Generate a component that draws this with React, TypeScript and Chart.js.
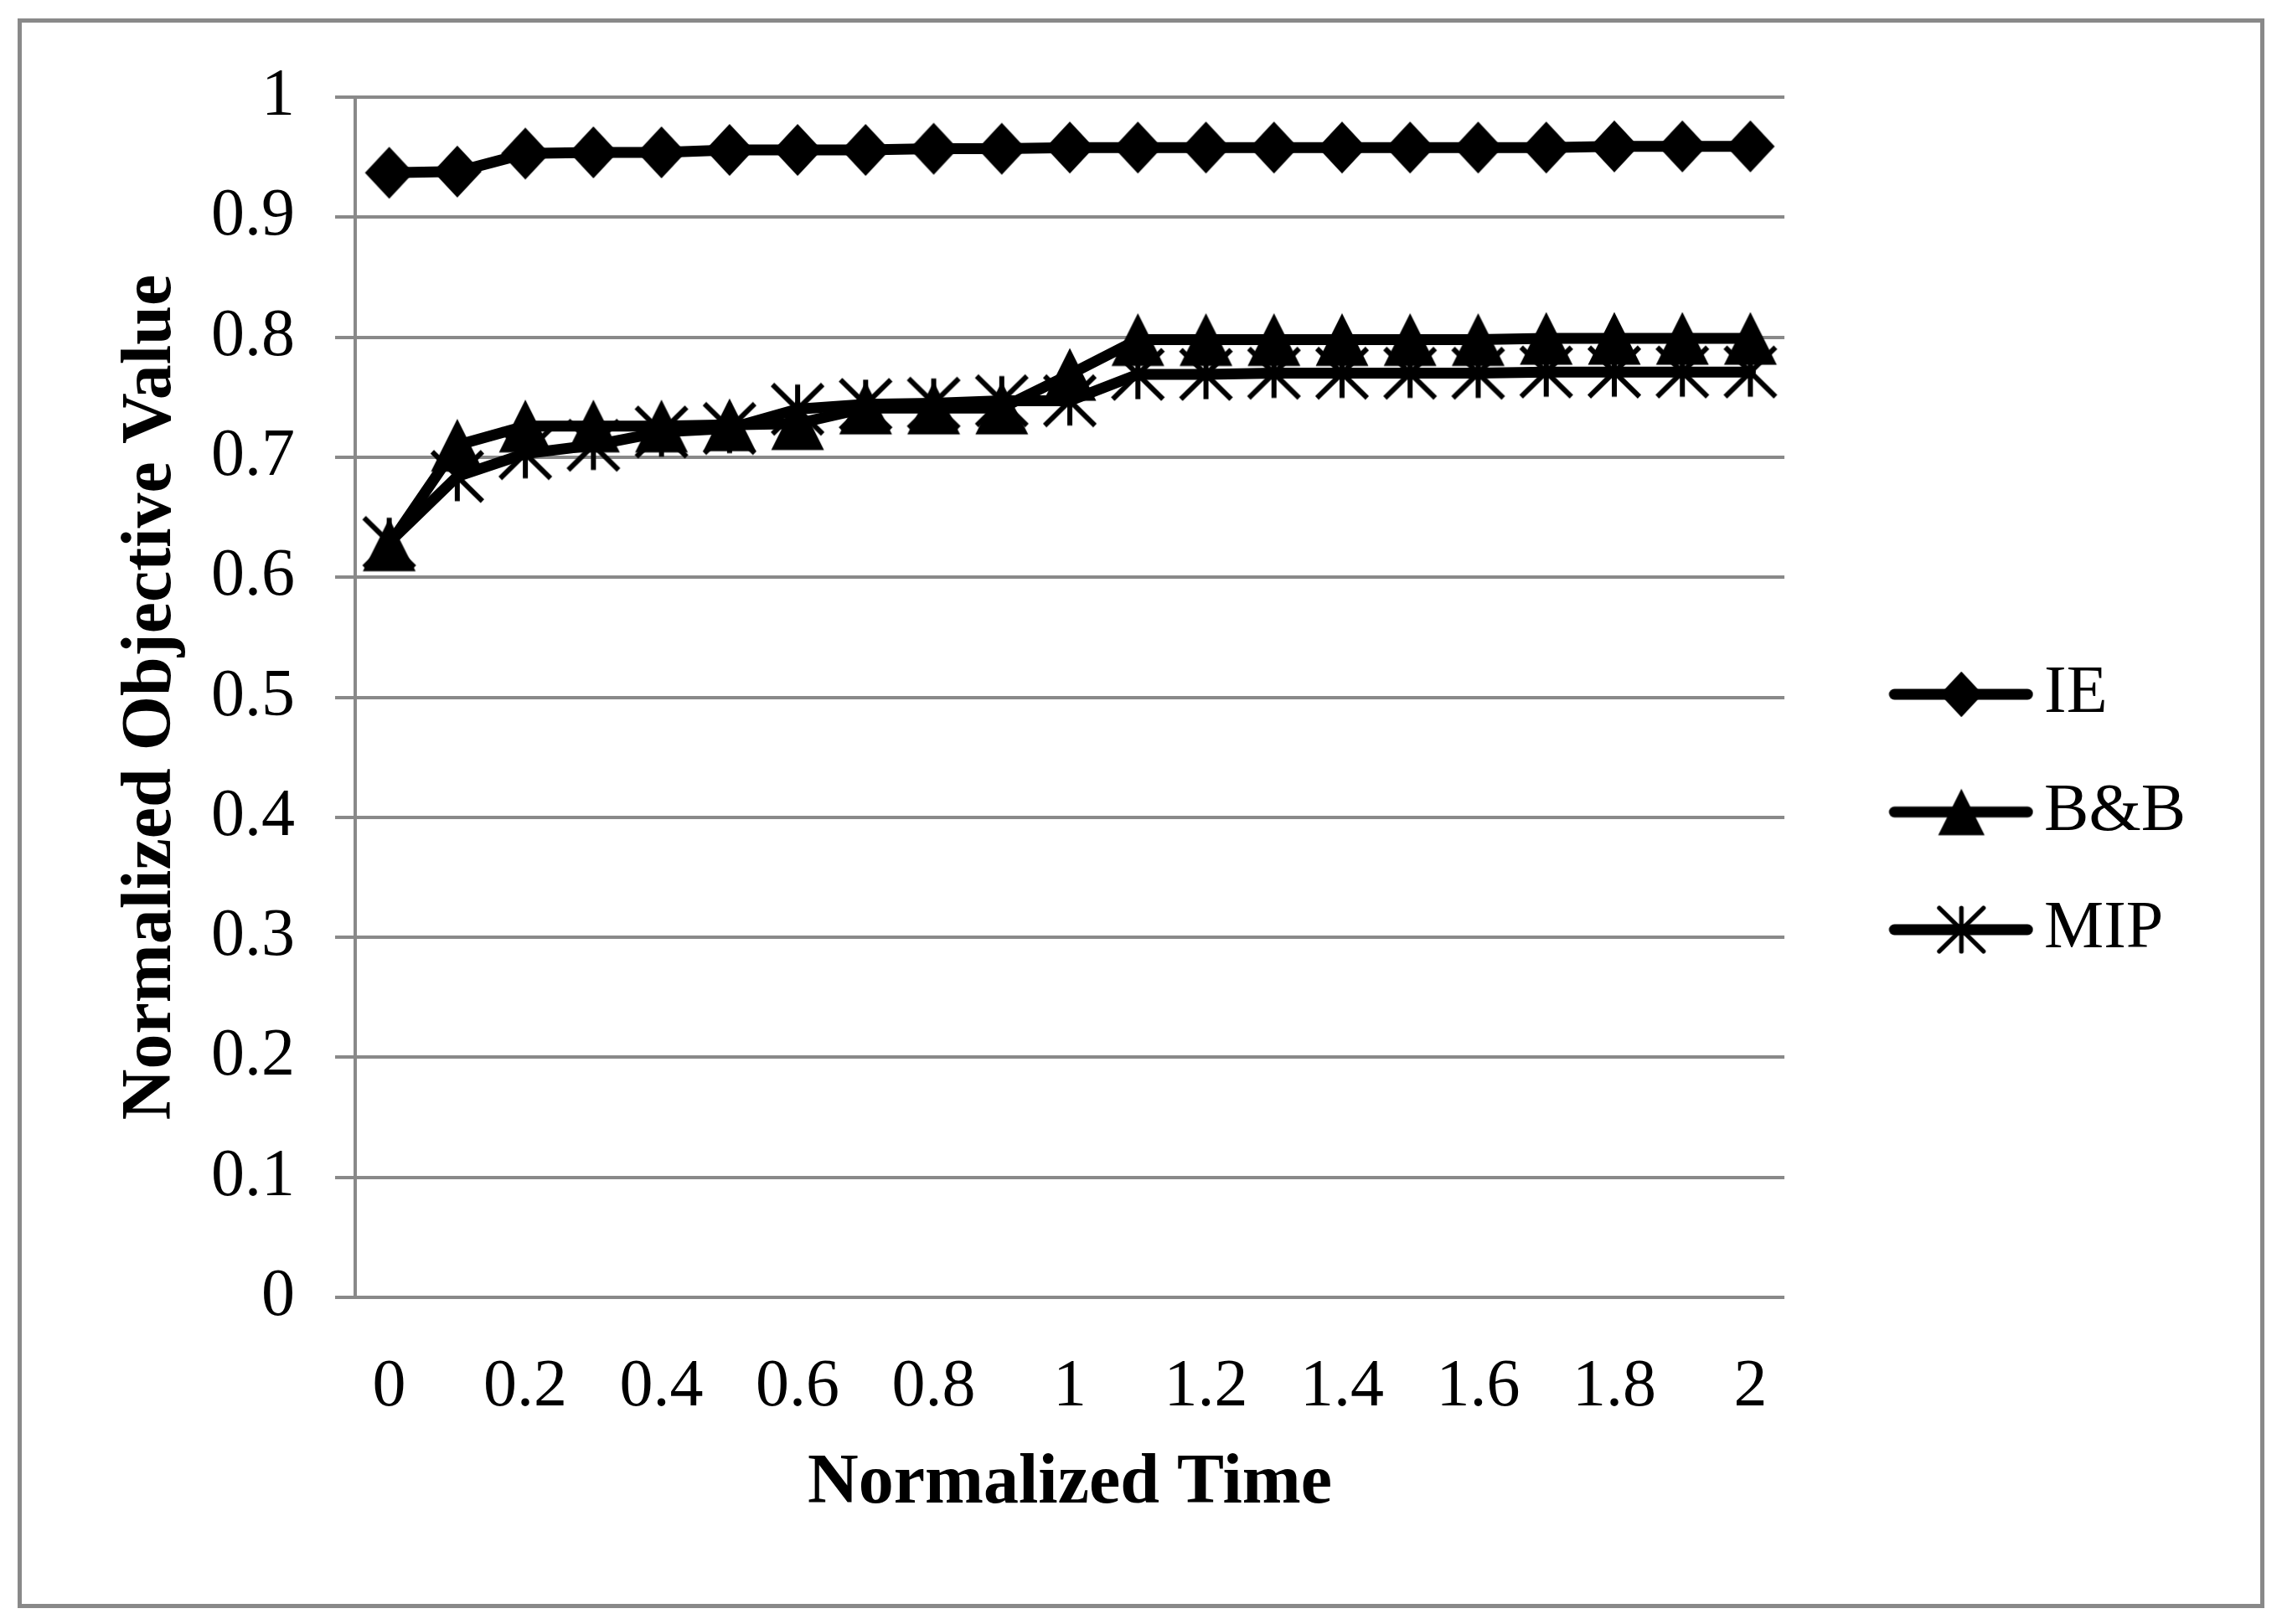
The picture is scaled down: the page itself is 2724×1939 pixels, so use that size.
import { useEffect, useRef } from "react";
import { Chart, registerables } from "chart.js";

Chart.register(...registerables);

// normalized time steps (x categories)
const timeLabels = [
  "0", "0.1", "0.2", "0.3", "0.4", "0.5", "0.6", "0.7", "0.8", "0.9", "1",
  "1.1", "1.2", "1.3", "1.4", "1.5", "1.6", "1.7", "1.8", "1.9", "2",
];

const ieValues = [
  0.937, 0.938, 0.953, 0.954, 0.954, 0.956, 0.956, 0.956, 0.957, 0.957, 0.958,
  0.958, 0.958, 0.958, 0.958, 0.958, 0.958, 0.958, 0.959, 0.959, 0.959,
];

const bbValues = [
  0.627, 0.71, 0.726, 0.726, 0.726, 0.727, 0.728, 0.741, 0.741, 0.741, 0.769,
  0.798, 0.798, 0.798, 0.798, 0.798, 0.798, 0.799, 0.799, 0.799, 0.799,
];

const mipValues = [
  0.629, 0.684, 0.703, 0.71, 0.721, 0.724, 0.74, 0.744, 0.745, 0.747, 0.747,
  0.769, 0.769, 0.77, 0.77, 0.77, 0.77, 0.771, 0.771, 0.771, 0.771,
];

const seriesNames = ["IE", "B&B", "MIP"];
const yTicks = [0, 0.1, 0.2, 0.3, 0.4, 0.5, 0.6, 0.7, 0.8, 0.9, 1];

const SERIF = "'Liberation Serif', 'Times New Roman', Times, serif";
const GRID = "#898989";

type MarkerKind = "diamond" | "triangle" | "asterisk";

function traceMarker(
  ctx: CanvasRenderingContext2D,
  kind: MarkerKind,
  cx: number,
  cy: number,
  s: number,
) {
  ctx.fillStyle = "#000";
  ctx.strokeStyle = "#000";
  ctx.beginPath();
  if (kind === "diamond") {
    const w = 29 * s;
    const h = 31 * s;
    ctx.moveTo(cx, cy - h);
    ctx.lineTo(cx + w, cy);
    ctx.lineTo(cx, cy + h);
    ctx.lineTo(cx - w, cy);
    ctx.closePath();
    ctx.fill();
  } else if (kind === "triangle") {
    const w = 31.5 * s;
    const h = 31.5 * s;
    ctx.moveTo(cx, cy - h);
    ctx.lineTo(cx + w, cy + h);
    ctx.lineTo(cx - w, cy + h);
    ctx.closePath();
    ctx.fill();
  } else {
    const w = 30 * s;
    const h = 29.5 * s;
    ctx.lineWidth = 6 * s;
    ctx.moveTo(cx, cy - h);
    ctx.lineTo(cx, cy + h);
    ctx.moveTo(cx - w, cy - h);
    ctx.lineTo(cx + w, cy + h);
    ctx.moveTo(cx + w, cy - h);
    ctx.lineTo(cx - w, cy + h);
    ctx.stroke();
  }
}

function makeMarker(kind: MarkerKind) {
  const c = document.createElement("canvas");
  c.width = 72;
  c.height = 72;
  const ctx = c.getContext("2d")!;
  traceMarker(ctx, kind, 36, 36, 1);
  return c;
}

// legend swatch: a line with the marker on it (drawn off-centre on purpose)
function makeLegendIcon(kind: MarkerKind) {
  const c = document.createElement("canvas");
  c.width = 264;
  c.height = 72;
  const ctx = c.getContext("2d")!;
  ctx.strokeStyle = "#000";
  ctx.lineWidth = 13;
  ctx.lineCap = "round";
  ctx.beginPath();
  ctx.moveTo(98, 36);
  ctx.lineTo(257, 36);
  ctx.stroke();
  traceMarker(ctx, kind, 178, 36, 0.88);
  return c;
}

function LineChart() {
  const canvasRef = useRef<HTMLCanvasElement>(null);
  const chartRef = useRef<Chart | null>(null);

  useEffect(() => {
    if (!canvasRef.current) return;
    const ctx = canvasRef.current.getContext("2d");
    if (!ctx) return;

    const kinds: MarkerKind[] = ["diamond", "triangle", "asterisk"];
    const markers = kinds.map(makeMarker);
    const legendIcons = kinds.map(makeLegendIcon);
    const values = [ieValues, bbValues, mipValues];

    const chart = new Chart(ctx, {
      type: "line",
      data: {
        labels: timeLabels,
        datasets: seriesNames.map((name, i) => ({
          label: name,
          data: values[i],
          borderColor: "#000",
          borderWidth: 13,
          borderJoinStyle: "round" as const,
          borderCapStyle: "round" as const,
          tension: 0,
          pointStyle: markers[i],
          pointRadius: 30,
          pointHoverRadius: 30,
          pointBackgroundColor: "#000",
          pointBorderWidth: 0,
          order: 2 - i,
        })),
      },
      options: {
        responsive: true,
        maintainAspectRatio: false,
        animation: false,
        events: [],
        layout: {
          padding: { left: 100, right: 105, top: 116, bottom: 116 },
        },
        scales: {
          x: {
            type: "category",
            offset: true,
            grid: { display: false, drawTicks: false },
            border: { display: false },
            ticks: {
              autoSkip: false,
              maxRotation: 0,
              minRotation: 0,
              padding: 60,
              color: "#000",
              font: { family: SERIF, size: 80 },
              callback: (_v, i) => (i % 2 === 0 ? timeLabels[i] : ""),
            },
            title: {
              display: true,
              text: "Normalized Time",
              color: "#000",
              font: { family: SERIF, size: 84, weight: "bold" },
              padding: { top: 1, bottom: 0 },
            },
            afterFit: (scale) => {
              scale.height = 274;
            },
          },
          y: {
            min: 0,
            max: 1,
            afterBuildTicks: (scale) => {
              scale.ticks = yTicks.map((v) => ({ value: v }));
            },
            grid: {
              color: GRID,
              lineWidth: 4,
              tickLength: 24,
              drawTicks: true,
            },
            border: { color: GRID, width: 4 },
            ticks: {
              padding: 48,
              color: "#000",
              font: { family: SERIF, size: 80 },
              callback: (v) => String(Math.round(Number(v) * 10) / 10),
            },
            title: {
              display: true,
              text: "Normalized Objective Value",
              color: "#000",
              font: { family: SERIF, size: 84, weight: "bold" },
              padding: { top: 31, bottom: 0 },
            },
            afterFit: (scale) => {
              scale.width = 324;
            },
          },
        },
        plugins: {
          tooltip: { enabled: false },
          legend: {
            position: "right",
            labels: {
              usePointStyle: true,
              pointStyleWidth: 209.5,
              padding: 60.5,
              color: "#000",
              font: { family: SERIF, size: 80 },
              generateLabels: (c) =>
                c.data.datasets.map((ds, i) => ({
                  text: String(ds.label),
                  pointStyle: legendIcons[i],
                  fillStyle: "#000",
                  strokeStyle: "#000",
                  lineWidth: 0,
                  hidden: false,
                  datasetIndex: i,
                  fontColor: "#000",
                })),
            },
          },
        },
      },
    });

    chartRef.current = chart;

    return () => {
      if (chartRef.current) {
        chartRef.current.destroy();
        chartRef.current = null;
      }
    };
  }, []);

  return (
    <div style={{ position: "absolute", left: 0, top: 0, width: 2724, height: 1939 }}>
      <canvas ref={canvasRef} />
    </div>
  );
}

export default function App() {
  return (
    <div
      style={{
        position: "fixed",
        left: 0,
        top: 0,
        width: 2724,
        height: 1939,
        background: "#fff",
        overflow: "hidden",
      }}
    >
      <div
        style={{
          position: "absolute",
          left: 21,
          top: 22,
          width: 2672,
          height: 1888,
          border: `5px solid ${GRID}`,
        }}
      />
      <LineChart />
    </div>
  );
}
